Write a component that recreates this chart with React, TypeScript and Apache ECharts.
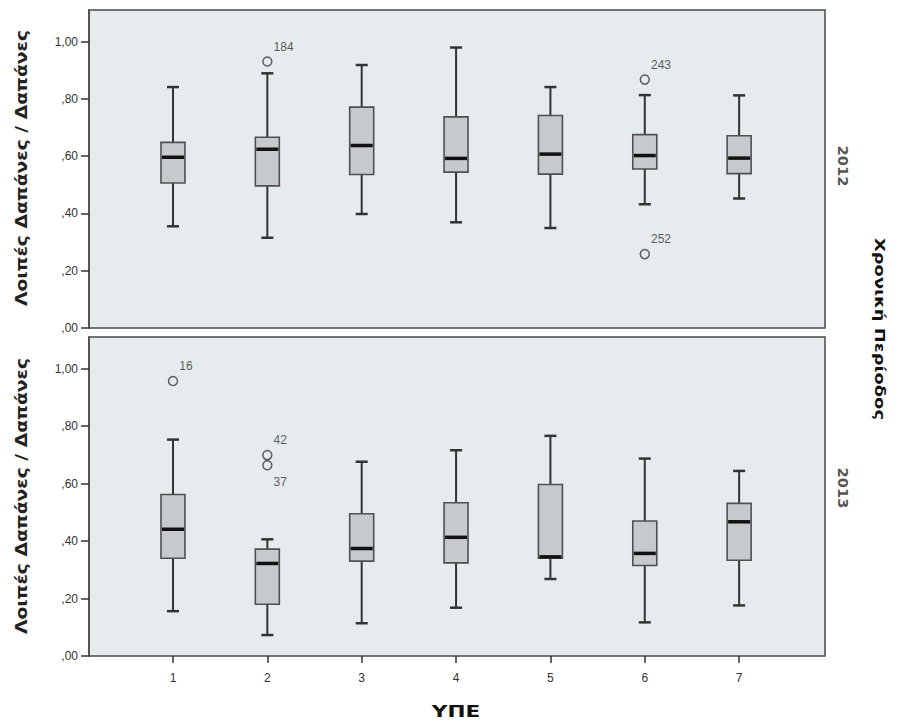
import React, { useEffect, useRef } from "react";
import * as echarts from "echarts";

// Health regions (ΥΠΕ) on the horizontal axis
const ype = [1, 2, 3, 4, 5, 6, 7];

// Box statistics per ΥΠΕ: [lower whisker, Q1, median, Q3, upper whisker]
const stats2012 = [
  [0.355, 0.506, 0.596, 0.648, 0.841],
  [0.315, 0.496, 0.624, 0.666, 0.889],
  [0.398, 0.536, 0.637, 0.771, 0.918],
  [0.369, 0.544, 0.592, 0.737, 0.979],
  [0.349, 0.537, 0.607, 0.742, 0.841],
  [0.432, 0.555, 0.602, 0.675, 0.813],
  [0.452, 0.539, 0.593, 0.671, 0.812],
];
const stats2013 = [
  [0.156, 0.34, 0.441, 0.562, 0.753],
  [0.073, 0.18, 0.322, 0.372, 0.406],
  [0.114, 0.33, 0.374, 0.495, 0.676],
  [0.168, 0.324, 0.413, 0.533, 0.716],
  [0.268, 0.34, 0.345, 0.597, 0.766],
  [0.117, 0.315, 0.357, 0.47, 0.687],
  [0.176, 0.333, 0.467, 0.531, 0.644],
];

// Outliers: [ΥΠΕ, value, case number]
const outliers2012: [number, number, string][] = [
  [2, 0.93, "184"],
  [6, 0.867, "243"],
  [6, 0.258, "252"],
];
const outliers2013: [number, number, string][] = [
  [1, 0.957, "16"],
  [2, 0.699, "42"],
  [2, 0.664, "37"],
];

const yTicks = [0, 0.2, 0.4, 0.6, 0.8, 1.0];
const panelLabels = ["2012", "2013"];

const fmtY = (v: number) => {
  const s = v.toFixed(2).replace(".", ",");
  return s.startsWith("0") ? s.slice(1) : s;
};

const BOX_FILL = "#c6cacd";
const PANEL_BG = "#e6ebee";
const DARK = "#333";

function renderBox(_params: any, api: any) {
  const x = api.value(0);
  const ys = [1, 2, 3, 4, 5].map((i) => api.coord([x, api.value(i)]));
  const cx = ys[0][0];
  const [lo, q1, md, q3, hi] = ys.map((p: number[]) => p[1]);
  const bw = 24;
  const cw = 12;
  const ws = { stroke: DARK, lineWidth: 2 };
  return {
    type: "group",
    children: [
      { type: "line", shape: { x1: cx, y1: hi, x2: cx, y2: q3 }, style: ws },
      { type: "line", shape: { x1: cx, y1: q1, x2: cx, y2: lo }, style: ws },
      { type: "line", shape: { x1: cx - cw / 2, y1: hi, x2: cx + cw / 2, y2: hi }, style: { stroke: DARK, lineWidth: 2.5 } },
      { type: "line", shape: { x1: cx - cw / 2, y1: lo, x2: cx + cw / 2, y2: lo }, style: { stroke: DARK, lineWidth: 2.5 } },
      {
        type: "rect",
        shape: { x: cx - bw / 2, y: q3, width: bw, height: q1 - q3 },
        style: { fill: BOX_FILL, stroke: "#505050", lineWidth: 1.6 },
      },
      {
        type: "line",
        shape: { x1: cx - bw / 2 + 1, y1: md, x2: cx + bw / 2 - 1, y2: md },
        style: { stroke: "#111", lineWidth: 3.5 },
      },
    ],
  };
}

function outlierData(list: [number, number, string][]) {
  return list.map(([x, v, id]) => {
    // When two outliers of the same ΥΠΕ sit close together, label the lower one underneath
    const higherNeighbour = list.some(
      ([x2, v2]) => x2 === x && v2 > v && v2 - v < 0.08
    );
    return {
      value: [x, v, id],
      label: { offset: higherNeighbour ? [-4, 17] : [-4, -15] },
    };
  });
}

export default function App() {
  const ref = useRef<HTMLDivElement>(null);

  useEffect(() => {
    if (!ref.current) return;
    const chart = echarts.init(ref.current, null, { renderer: "svg" });

    const grids = [
      { left: 89, top: 10, width: 736, height: 318 },
      { left: 89, top: 337, width: 736, height: 319 },
    ].map((g) => ({
      ...g,
      show: true,
      backgroundColor: PANEL_BG,
      borderColor: "#4a4a4a",
      borderWidth: 1.5,
    }));

    const xAxes = [0, 1].map((i) => ({
      type: "value",
      gridIndex: i,
      min: 0.11,
      max: 7.91,
      axisLine: { show: false },
      splitLine: { show: false },
      axisTick: {
        show: i === 1,
        customValues: ype,
        length: 7,
        lineStyle: { color: DARK, width: 1.5 },
      },
      axisLabel: {
        show: i === 1,
        customValues: ype,
        color: DARK,
        fontSize: 12,
        fontFamily: "Liberation Sans, Arial, sans-serif",
        margin: 16,
      },
    }));

    const yAxes = [0, 1].map((i) => ({
      type: "value",
      gridIndex: i,
      min: 0,
      max: 1.11,
      axisLine: { show: true, lineStyle: { color: "#4a4a4a", width: 1.5 } },
      splitLine: { show: false },
      axisTick: {
        show: true,
        customValues: yTicks,
        length: 8,
        lineStyle: { color: DARK, width: 1.5 },
      },
      axisLabel: {
        customValues: yTicks,
        formatter: fmtY,
        color: DARK,
        fontSize: 12,
        fontFamily: "Liberation Sans, Arial, sans-serif",
        margin: 11,
      },
    }));

    const boxSeries = [stats2012, stats2013].map((stats, i) => ({
      type: "custom",
      xAxisIndex: i,
      yAxisIndex: i,
      renderItem: renderBox,
      encode: { x: 0, y: [1, 2, 3, 4, 5] },
      data: stats.map((s, k) => [ype[k], ...s]),
      z: 3,
    }));

    const outlierSeries = [outliers2012, outliers2013].map((list, i) => ({
      type: "scatter",
      xAxisIndex: i,
      yAxisIndex: i,
      symbol: "circle",
      symbolSize: 9,
      itemStyle: { color: "rgba(0,0,0,0)", borderColor: "#3a3a3a", borderWidth: 1.5 },
      label: {
        show: true,
        position: "right",
        formatter: (p: any) => p.value[2],
        color: DARK,
        fontSize: 12,
        fontFamily: "Liberation Sans, Arial, sans-serif",
      },
      data: outlierData(list),
      z: 4,
    }));

    const titleFont = "bold 15px 'DejaVu Sans', sans-serif";
    const sideFont = "bold 14px 'DejaVu Sans', sans-serif";

    chart.setOption({
      animation: false,
      backgroundColor: "#ffffff",
      grid: grids,
      xAxis: xAxes,
      yAxis: yAxes,
      series: [...boxSeries, ...outlierSeries],
      graphic: [
        {
          type: "text",
          x: 22,
          y: 168,
          rotation: Math.PI / 2,
          scaleX: 1.25,
          style: { text: "Λοιπές Δαπάνες / Δαπάνες", font: titleFont, fill: "#222", align: "center", verticalAlign: "middle" },
        },
        {
          type: "text",
          x: 22,
          y: 496,
          rotation: Math.PI / 2,
          scaleX: 1.25,
          style: { text: "Λοιπές Δαπάνες / Δαπάνες", font: titleFont, fill: "#222", align: "center", verticalAlign: "middle" },
        },
        {
          type: "text",
          x: 843,
          y: 166,
          rotation: -Math.PI / 2,
          scaleX: 1.05,
          style: { text: panelLabels[0], font: sideFont, fill: "#555", align: "center", verticalAlign: "middle" },
        },
        {
          type: "text",
          x: 843,
          y: 488,
          rotation: -Math.PI / 2,
          scaleX: 1.05,
          style: { text: panelLabels[1], font: sideFont, fill: "#555", align: "center", verticalAlign: "middle" },
        },
        {
          type: "text",
          x: 880,
          y: 329,
          rotation: -Math.PI / 2,
          scaleX: 1.28,
          style: { text: "Χρονική Περίοδος", font: sideFont, fill: "#111", align: "center", verticalAlign: "middle" },
        },
        {
          type: "text",
          x: 456,
          y: 711,
          scaleX: 1.35,
          style: { text: "ΥΠΕ", font: "bold 16px 'DejaVu Sans', sans-serif", fill: "#111", align: "center", verticalAlign: "middle" },
        },
      ],
    });

    return () => chart.dispose();
  }, []);

  return (
    <div
      ref={ref}
      style={{ position: "fixed", left: 0, top: 0, width: 900, height: 725, background: "#fff" }}
    />
  );
}
